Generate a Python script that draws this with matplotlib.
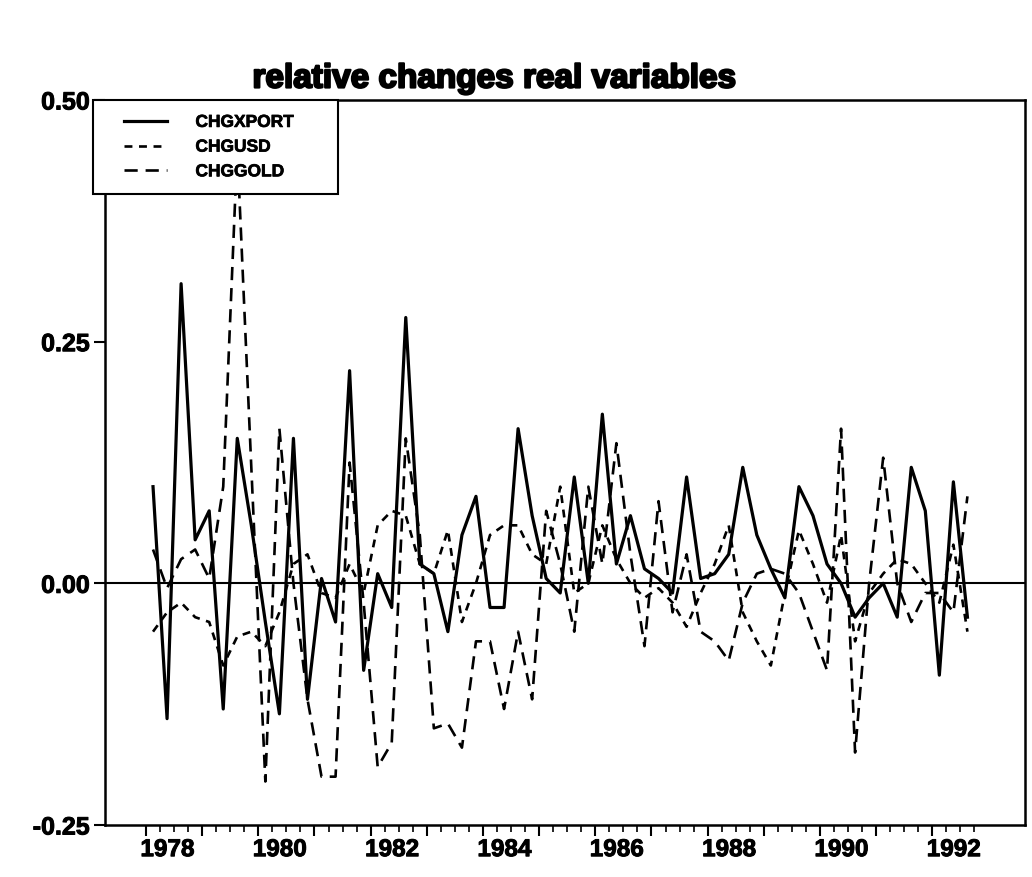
import matplotlib
matplotlib.use("Agg")
import matplotlib.pyplot as plt
import matplotlib.transforms as mtransforms
import matplotlib.patheffects as pe
from matplotlib.legend_handler import HandlerLine2D
import numpy as np
import pandas as pd

plt.rcParams['font.family'] = ['Liberation Sans', 'DejaVu Sans']
plt.rcParams['font.weight'] = 'bold'

# quarterly observations 1978Q1 .. 1992Q3
quarters = pd.period_range('1978Q1', '1992Q3', freq='Q')

chgxport = [0.10, -0.14, 0.31, 0.045, 0.075, -0.13, 0.15, 0.06, -0.04, -0.135,
            0.15, -0.12, 0.005, -0.04, 0.22, -0.09, 0.01, -0.025, 0.275, 0.02,
            0.01, -0.05, 0.05, 0.09, -0.025, -0.025, 0.16, 0.07, 0.005, -0.01,
            0.11, 0.0, 0.175, 0.02, 0.07, 0.015, 0.005, -0.01, 0.11, 0.005,
            0.01, 0.03, 0.12, 0.05, 0.015, -0.015, 0.10, 0.07, 0.02, 0.0,
            -0.035, -0.015, 0.0, -0.035, 0.12, 0.075, -0.095, 0.105, -0.035]

chgusd = [-0.05, -0.03, -0.02, -0.035, -0.04, -0.085, -0.055, -0.05, -0.065, -0.03,
          0.02, 0.03, -0.01, -0.015, 0.02, -0.01, 0.06, 0.075, 0.07, 0.02,
          0.01, 0.055, -0.04, 0.0, 0.05, 0.06, 0.06, 0.03, 0.02, 0.10,
          -0.01, 0.0, 0.06, 0.025, 0.0, -0.015, -0.005, -0.02, -0.045, -0.01,
          0.02, 0.06, -0.03, -0.06, -0.085, -0.01, 0.055, 0.02, -0.02, 0.05,
          -0.06, -0.01, 0.01, 0.025, 0.02, 0.0, -0.02, 0.04, -0.05]

chggold = [0.035, -0.005, 0.025, 0.035, 0.005, 0.10, 0.45, 0.12, -0.205, 0.16,
           0.0, -0.12, -0.20, -0.20, 0.125, -0.02, -0.19, -0.165, 0.15, 0.05,
           -0.15, -0.145, -0.17, -0.06, -0.06, -0.13, -0.05, -0.12, 0.075, 0.02,
           -0.05, 0.10, 0.02, 0.145, 0.03, -0.065, 0.085, -0.03, 0.03, -0.05,
           -0.06, -0.08, -0.02, 0.01, 0.015, 0.01, -0.01, -0.05, -0.09, 0.16,
           -0.175, 0.0, 0.13, 0.0, -0.04, -0.01, -0.01, -0.03, 0.09]

year_labels = [1978, 1980, 1982, 1984, 1986, 1988, 1990, 1992]

# plot each quarter at its midpoint
t = np.array([q.year + (q.quarter - 0.5) / 4 for q in quarters])

heavy = [pe.withStroke(linewidth=0.7, foreground='black')]

fig = plt.figure(figsize=(10.32, 8.77), dpi=100)
ax = fig.add_axes([105 / 1032, 1 - 825 / 877, 920 / 1032, 725 / 877])

ax.plot(t, chgxport, color='black', lw=2.3, ls='-', label='CHGXPORT')
ax.plot(t, chgusd, color='black', lw=1.9, ls=(0, (3, 2.5)), label='CHGUSD')
ax.plot(t, chggold, color='black', lw=1.9, ls=(0, (5, 3)), label='CHGGOLD')
ax.axhline(0, color='black', lw=1.5)

ax.set_xlim(1977.27, 1993.65)
ax.set_ylim(-0.25, 0.50)

ax.set_yticks([-0.25, 0.0, 0.25, 0.50])
ax.set_yticklabels(['%.2f' % v for v in [-0.25, 0.0, 0.25, 0.50]])
ax.tick_params(axis='y', direction='out', length=8, width=1.5, pad=3, labelsize=18)
for lab in ax.get_yticklabels():
    lab.set_path_effects(heavy)

ax.set_xticks(np.arange(1978, 1993))
ax.set_xticks(np.arange(1978.25, 1993, 0.25), minor=True)
ax.tick_params(axis='x', which='major', direction='out', length=8, width=1.5, labelbottom=False)
ax.tick_params(axis='x', which='minor', direction='out', length=5, width=1.2)

trans = mtransforms.blended_transform_factory(ax.transData, ax.transAxes)
for yr in year_labels:
    ax.text(yr + 0.38, -0.034, str(yr), transform=trans, ha='center', va='center',
            fontsize=17.5, fontweight='bold', path_effects=heavy)

for s in ax.spines.values():
    s.set_linewidth(1.8)

fig.text(495 / 1032, 1 - 79 / 877, 'relative changes real variables', ha='center', va='center',
         fontsize=24, fontweight='bold',
         path_effects=[pe.withStroke(linewidth=1.6, foreground='black')])

hmap = {ln: HandlerLine2D(xpad=0.95) for ln in ax.get_lines()[:3]}
leg = ax.legend(ax.get_lines()[:3], ['CHGXPORT      ', 'CHGUSD', 'CHGGOLD'],
                handler_map=hmap, loc='upper left',
                bbox_to_anchor=(-12 / 920, 1.0), borderaxespad=0, fontsize=12.5,
                handlelength=3.4, handletextpad=1.65, labelspacing=0.55, borderpad=0.85,
                fancybox=False, framealpha=1, edgecolor='black')
leg.get_frame().set_linewidth(1.5)
for txt in leg.get_texts():
    txt.set_fontweight('bold')
    txt.set_path_effects([pe.withStroke(linewidth=0.5, foreground='black')])

fig.savefig('out.png', dpi=100)
